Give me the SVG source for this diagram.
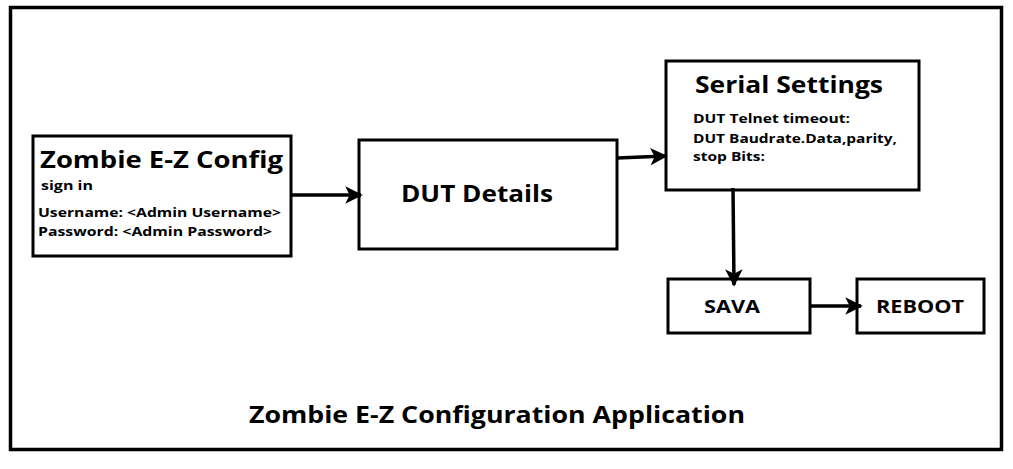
<svg xmlns="http://www.w3.org/2000/svg" width="1013" height="469" viewBox="0 0 1013 469">
<style>
.box{fill:#fff;stroke:#000;stroke-width:3}
.t{font-family:"Open Sans","Liberation Sans",sans-serif;font-weight:bold;fill:#000}
.c{stroke:#000;stroke-width:3.5;fill:none;marker-end:url(#ah)}
</style>
<defs>
<marker id="ah" viewBox="0 0 10 10" refX="9" refY="5" markerWidth="5" markerHeight="5" markerUnits="strokeWidth" orient="auto">
<path d="M0,0 L10,5 L0,10 L2.5,5 Z" fill="#000"/>
</marker>
</defs>
<rect width="1013" height="469" fill="#fff"/>
<rect x="10.5" y="7.5" width="991" height="442" fill="none" stroke="#000" stroke-width="3.5"/>
<g id="zombie">
<rect class="box" x="33" y="136" width="258" height="120"/>
<text class="t" x="40" y="168" font-size="24" textLength="243" lengthAdjust="spacingAndGlyphs">Zombie E-Z Config</text>
<text class="t" x="41" y="190" font-size="13" textLength="52" lengthAdjust="spacingAndGlyphs">sign in</text>
<text class="t" x="38" y="217" font-size="13" textLength="243" lengthAdjust="spacingAndGlyphs">Username: &lt;Admin Username&gt;</text>
<text class="t" x="38" y="236" font-size="13" textLength="234" lengthAdjust="spacingAndGlyphs">Password: &lt;Admin Password&gt;</text>
</g>
<g id="dut">
<rect class="box" x="359" y="140" width="258" height="109"/>
<text class="t" x="401" y="202" font-size="24" textLength="152" lengthAdjust="spacingAndGlyphs">DUT Details</text>
</g>
<g id="serial">
<rect class="box" x="666" y="61" width="253" height="129"/>
<text class="t" x="695" y="93" font-size="23" textLength="188" lengthAdjust="spacingAndGlyphs">Serial Settings</text>
<text class="t" x="693" y="123" font-size="13" textLength="157" lengthAdjust="spacingAndGlyphs">DUT Telnet timeout:</text>
<text class="t" x="693" y="143" font-size="13" textLength="204" lengthAdjust="spacingAndGlyphs">DUT Baudrate.Data,parity,</text>
<text class="t" x="693" y="161" font-size="13" textLength="72" lengthAdjust="spacingAndGlyphs">stop Bits:</text>
</g>
<g id="sava">
<rect class="box" x="668" y="279" width="142" height="54"/>
<text class="t" x="704" y="313" font-size="17" textLength="56" lengthAdjust="spacingAndGlyphs">SAVA</text>
</g>
<g id="reboot">
<rect class="box" x="857" y="279" width="127" height="54"/>
<text class="t" x="876" y="313" font-size="17" textLength="88" lengthAdjust="spacingAndGlyphs">REBOOT</text>
</g>
<g id="connectors">
<line class="c" x1="291" y1="195" x2="361" y2="195"/>
<line class="c" x1="617" y1="158" x2="666" y2="156"/>
<line class="c" x1="733" y1="188" x2="734" y2="285"/>
<line class="c" x1="810" y1="306" x2="861" y2="306"/>
</g>
<text class="t" x="249" y="423" font-size="24" textLength="496" lengthAdjust="spacingAndGlyphs">Zombie E-Z Configuration Application</text>
</svg>
